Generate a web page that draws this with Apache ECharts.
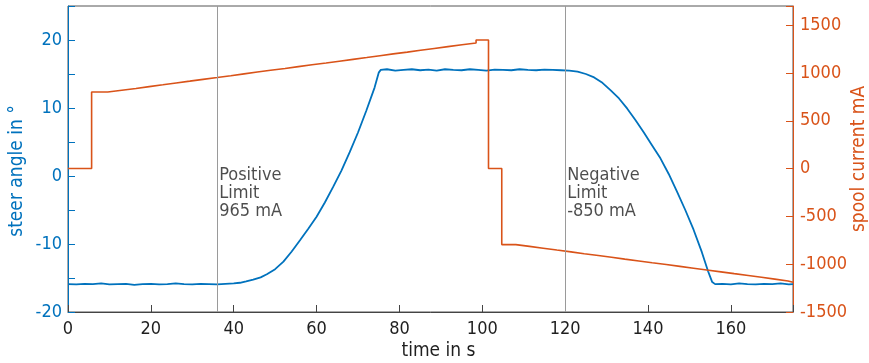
<!DOCTYPE html>
<html>
<head>
<meta charset="utf-8">
<script src="https://cdn.jsdelivr.net/npm/echarts@6/dist/echarts.min.js"></script>
<style>html,body{margin:0;padding:0;background:#fff}#c{width:869px;height:363px}</style>
</head>
<body>
<div id="c"></div>
<script>
// steer angle (deg) vs time (s)
const steerAngle = [
[0,-15.9],[2,-15.95],[4,-15.85],[6,-15.9],[8,-15.8],[10,-15.95],[12,-15.9],[14,-15.85],[16,-16.0],[18,-15.9],
[20,-15.85],[22,-15.95],[24,-15.9],[26,-15.8],[28,-15.9],[30,-15.95],[32,-15.85],[34,-15.9],[36,-15.95],[38,-15.85],
[40,-15.8],[41.5,-15.7],[43,-15.5],[44.7,-15.25],[46.5,-14.9],[48,-14.45],[50,-13.7],[52,-12.6],[54,-11.1],[56,-9.45],
[58,-7.75],[60,-6.0],[62,-3.9],[64,-1.6],[66,0.8],[68,3.5],[70,6.4],[72,9.6],[74,13.0],[75,15.2],[75.5,15.6],
[77,15.7],[79,15.5],[81,15.6],[83,15.7],[85,15.55],[87,15.65],[89,15.5],[91,15.7],[93,15.6],[95,15.55],[97,15.7],
[99,15.6],[101,15.5],[103,15.65],[105,15.6],[107,15.55],[109,15.7],[111,15.6],[113,15.55],[115,15.65],[117,15.6],
[119,15.55],[121,15.5],[123,15.35],[125,15.0],[127,14.5],[129,13.7],[131,12.6],[133,11.4],[135,9.9],[137,8.2],
[139,6.4],[141,4.5],[143,2.6],[145,0.3],[147,-2.3],[149,-5.0],[151,-7.9],[153,-11.2],[154.5,-14.0],[155.5,-15.6],
[156.2,-15.9],[158,-15.85],[160,-15.95],[162,-15.8],[164,-15.9],[166,-15.95],[168,-15.85],[170,-15.9],[172,-15.8],
[174,-15.95],[175,-15.9]
];
// spool current (mA), each level holds from its time until the next one
const spoolCurrent = [
[0,0],[5.7,800],[9.6,819],[13.0,838],[16.4,857],[19.6,876],[22.9,895],[26.1,914],[29.4,933],[32.6,952],
[36.0,971],[39.3,990],[42.5,1009],[45.7,1028],[48.9,1047],[52.4,1066],[55.6,1085],[58.9,1104],[62.3,1123],
[65.5,1142],[68.8,1161],[72.1,1180],[75.3,1199],[78.5,1218],[81.9,1237],[85.1,1256],[88.4,1275],[91.7,1294],
[95.1,1313],[98.5,1345],[101.5,0],[104.7,-795],[108.1,-814],[111.4,-833],[114.7,-852],[118.0,-871],[121.4,-890],
[124.6,-909],[128.0,-928],[131.2,-947],[134.4,-966],[137.8,-985],[141.0,-1004],[144.4,-1023],[147.7,-1042],
[151.0,-1061],[154.2,-1080],[157.6,-1099],[160.8,-1118],[164.2,-1137],[167.4,-1156],[170.6,-1175],[173.8,-1190],
[175,-1190]
];
const limitTimes = [36, 120];
const limitLabels = ['Positive\nLimit\n965 mA', 'Negative\nLimit\n-850 mA'];
const labelAngle = -2.5;

const BLUE = '#0072BD', ORANGE = '#D95319', DARK = '#1f1f1f';
const FONT = 'DejaVu Sans Condensed';

const chart = echarts.init(document.getElementById('c'), null, {renderer: 'canvas'});
chart.setOption({
  animation: false,
  grid: {left: 68, right: 76, top: 6, bottom: 51, outerBoundsMode: 'none', containLabel: false,
    show: true, borderColor: '#555', borderWidth: 1, backgroundColor: 'transparent'},
  xAxis: {
    type: 'value', min: 0, max: 175, interval: 20,
    name: 'time in s', nameLocation: 'middle', nameGap: 30, nameMoveOverlap: false,
    nameTextStyle: {color: DARK, fontSize: 19, fontFamily: FONT, padding: [0, 0, 0, 16]},
    axisLine: {show: true, onZero: false, lineStyle: {color: '#444', width: 1}},
    axisTick: {show: true, inside: true, length: 7, lineStyle: {color: '#444'}},
    axisLabel: {color: DARK, fontSize: 18, fontFamily: FONT, margin: 8,
      formatter: v => (v % 20 === 0 ? String(v) : '')},
    splitLine: {show: false}
  },
  yAxis: [{
    type: 'value', position: 'left', min: -20, max: 25, interval: 5,
    name: 'steer angle in °', nameLocation: 'middle', nameGap: 41, nameMoveOverlap: false,
    nameTextStyle: {color: BLUE, fontSize: 19, fontFamily: FONT, padding: [0, 24, 0, 0]},
    axisLine: {show: true, onZero: false, lineStyle: {color: BLUE, width: 1}},
    axisTick: {show: true, inside: true, length: 7, lineStyle: {color: BLUE}},
    axisLabel: {color: BLUE, fontSize: 18, fontFamily: FONT, margin: 6,
      formatter: v => (v % 10 === 0 && v <= 20 ? String(v) : '')},
    splitLine: {show: false}
  }, {
    type: 'value', position: 'right', min: -1500, max: 1700, interval: 500,
    name: 'spool current mA', nameLocation: 'middle', nameGap: 57, nameMoveOverlap: false,
    nameTextStyle: {color: ORANGE, fontSize: 19, fontFamily: FONT},
    axisLine: {show: true, onZero: false, lineStyle: {color: ORANGE, width: 1}},
    axisTick: {show: true, inside: true, length: 7, lineStyle: {color: ORANGE}},
    axisLabel: {color: ORANGE, fontSize: 18, fontFamily: FONT, margin: 7,
      formatter: v => (v % 500 === 0 ? String(v) : '')},
    splitLine: {show: false}
  }],
  series: [{
    type: 'line', name: 'limits', yAxisIndex: 0, data: [], silent: true,
    markLine: {symbol: 'none', silent: true, label: {show: false},
      lineStyle: {color: '#9a9a9a', width: 1, type: 'solid'},
      data: limitTimes.map(t => ({xAxis: t}))}
  }, {
    type: 'line', name: 'steer angle', yAxisIndex: 0, data: steerAngle,
    showSymbol: false, symbol: 'none', lineStyle: {color: BLUE, width: 1.8}, z: 3
  }, {
    type: 'line', name: 'spool current', yAxisIndex: 1, data: spoolCurrent, step: 'end',
    showSymbol: false, symbol: 'none', lineStyle: {color: ORANGE, width: 1.6}, z: 4
  }, {
    type: 'scatter', yAxisIndex: 0, symbolSize: 0, silent: true,
    data: limitTimes.map((t, i) => ({value: [t, labelAngle], label: {formatter: limitLabels[i]}})),
    label: {show: true, position: 'right', distance: 2, align: 'left', verticalAlign: 'middle',
      color: DARK, fontSize: 18, fontFamily: FONT, lineHeight: 18}
  }]
});
</script>
</body>
</html>
